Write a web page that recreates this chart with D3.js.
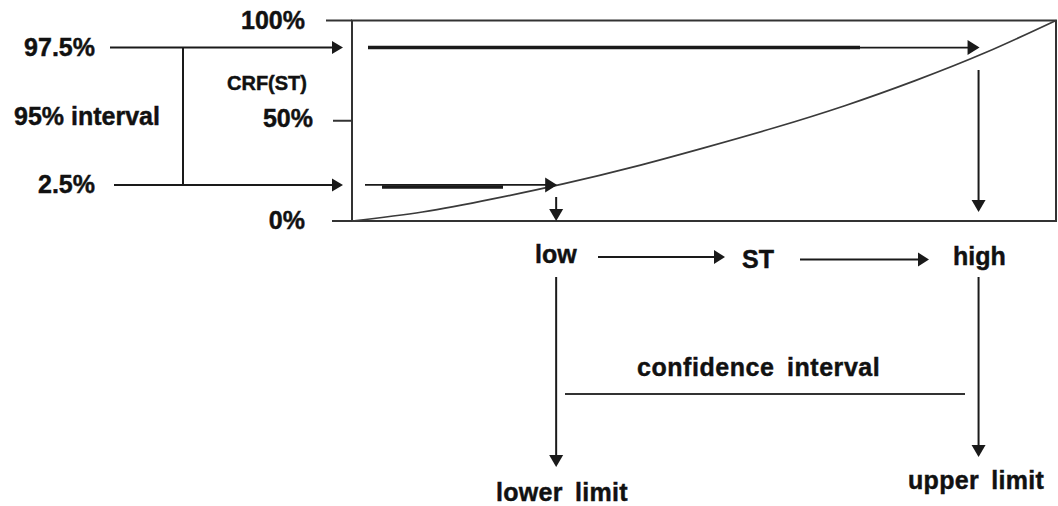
<!DOCTYPE html>
<html>
<head>
<meta charset="utf-8">
<script src="https://cdn.jsdelivr.net/npm/d3@7"></script>
<style>
  html, body { margin: 0; padding: 0; background: #fff; }
  svg { display: block; }
  text { font-family: "Liberation Sans", Arial, Helvetica, sans-serif; font-weight: bold; fill: #111; stroke: #111; stroke-width: 0.45px; }
</style>
</head>
<body>
<svg id="chart" width="1058" height="506"></svg>
<script>
// ---- data ----
const stFraction = [0, 0.1, 0.2, 0.3, 0.4, 0.5, 0.6, 0.7, 0.8, 0.9, 1.0];
const crfValues  = [0, 0.045, 0.11, 0.185, 0.27, 0.365, 0.465, 0.575, 0.70, 0.84, 1.0];
const yTickValues = [0, 0.5, 1];
const yTickLabels = ["0%", "50%", "100%"];
const quantileLabels = ["2.5%", "97.5%"];
const quantileLevels = [0.18, 0.865];   // where the schematic draws them on the CRF axis
const limitST = [0.29, 0.89];           // low / high positions on the ST axis
const flowLabels = ["low", "ST", "high"];
const limitLabels = ["lower limit", "upper limit"];
const intervalLabel = "95% interval";
const curveLabel = "CRF(ST)";
const ciLabel = "confidence interval";

// ---- layout ----
const svg = d3.select("#chart");
const box = { left: 352, right: 1056, top: 20.5, bottom: 221 };
const x = d3.scaleLinear().domain([0, 1]).range([box.left, box.right]);
const y = d3.scaleLinear().domain([0, 1]).range([box.bottom, box.top]);
const ink = "#1a1a1a";

function arrow(g, x1, y1, x2, y2, opts = {}) {
  const w = opts.width || 1.8, hl = opts.headLen || 12, hw = opts.headW || 13;
  const dx = x2 - x1, dy = y2 - y1, L = Math.hypot(dx, dy);
  const ux = dx / L, uy = dy / L;
  const bx = x2 - ux * hl, by = y2 - uy * hl;
  g.append("line").attr("x1", x1).attr("y1", y1).attr("x2", bx + ux * 1).attr("y2", by + uy * 1)
    .attr("stroke", ink).attr("stroke-width", w);
  g.append("path")
    .attr("d", `M${x2},${y2}L${bx - uy * hw / 2},${by + ux * hw / 2}L${bx + uy * hw / 2},${by - ux * hw / 2}Z`)
    .attr("fill", ink);
}

const g = svg.append("g");

// plot frame
g.append("rect").attr("x", box.left).attr("y", box.top)
  .attr("width", box.right - box.left).attr("height", box.bottom - box.top)
  .attr("fill", "none").attr("stroke", "#333").attr("stroke-width", 2);

// y ticks + labels
const tickLen = [20, 19, 26];
const labelEnd = [305, 313, 305];
const labelDy = [8, 6, 8];
yTickValues.forEach((v, i) => {
  g.append("line").attr("x1", box.left - tickLen[i]).attr("x2", box.left)
    .attr("y1", y(v)).attr("y2", y(v)).attr("stroke", "#333").attr("stroke-width", 2);
  g.append("text").attr("x", labelEnd[i]).attr("y", y(v) + labelDy[i])
    .attr("text-anchor", "end").attr("font-size", 25).text(yTickLabels[i]);
});

// CRF curve
const line = d3.line().x((d, i) => x(stFraction[i])).y(d => y(d)).curve(d3.curveNatural);
g.append("path").attr("d", line(crfValues)).attr("fill", "none")
  .attr("stroke", "#3a3a3a").attr("stroke-width", 1.7);

g.append("text").attr("x", 227).attr("y", 90).attr("font-size", 20).text(curveLabel);

// left quantile arrows
const leftStart = [114, 110];
const leftLabelX = [95, 95];
quantileLevels.forEach((q, i) => {
  arrow(g, leftStart[i], y(q), box.left - 9, y(q), { width: 2, headLen: 11, headW: 13 });
  g.append("text").attr("x", leftLabelX[i]).attr("y", y(q) + 8)
    .attr("text-anchor", "end").attr("font-size", 25).text(quantileLabels[i]);
});
// bracket joining the quantile arrows
g.append("line").attr("x1", 183).attr("x2", 183)
  .attr("y1", y(quantileLevels[1])).attr("y2", y(quantileLevels[0]))
  .attr("stroke", ink).attr("stroke-width", 2);
g.append("text").attr("x", 14).attr("y", 125).attr("font-size", 25).text(intervalLabel);

// arrows inside the plot: quantile level -> curve -> ST axis
const innerStart = [365, 368];
const thickSeg = [[382, 503, 2], [368, 860, 0]];
const downStart = [197, 70];
limitST.forEach((s, i) => {
  const q = quantileLevels[i];
  arrow(g, innerStart[i], y(q), x(s) + 1, y(q), { width: 1.8, headLen: 12, headW: 15 });
  g.append("line").attr("x1", thickSeg[i][0]).attr("x2", thickSeg[i][1])
    .attr("y1", y(q) + thickSeg[i][2]).attr("y2", y(q) + thickSeg[i][2])
    .attr("stroke", ink).attr("stroke-width", 3.5);
  arrow(g, x(s), downStart[i], x(s), i === 0 ? box.bottom : 212, { width: 2, headLen: 12, headW: 14 });
});

// flow row: low -> ST -> high
const flowX = [535, 742, 953];
const flowY = [263, 268, 265];
flowLabels.forEach((t, i) => {
  g.append("text").attr("x", flowX[i]).attr("y", flowY[i]).attr("font-size", 25).text(t);
});
arrow(g, 598, 257, 725, 257, { width: 1.8, headLen: 11, headW: 14 });
arrow(g, 800, 259.5, 929, 259.5, { width: 1.8, headLen: 11, headW: 14 });

// down to limits
const limitBottom = [467, 457];
limitST.forEach((s, i) => {
  arrow(g, x(s), 277, x(s), limitBottom[i], { width: 2, headLen: 12, headW: 14 });
});
const limitLabelX = [496, 908];
const limitLabelY = [501, 489];
limitLabels.forEach((t, i) => {
  g.append("text").attr("x", limitLabelX[i]).attr("y", limitLabelY[i]).attr("font-size", 25)
    .attr("word-spacing", 5).attr("letter-spacing", 0.3).text(t);
});

// confidence interval
g.append("line").attr("x1", 565).attr("x2", 965).attr("y1", 394).attr("y2", 394)
  .attr("stroke", "#333").attr("stroke-width", 1.8);
g.append("text").attr("x", 637).attr("y", 376).attr("font-size", 25)
  .attr("word-spacing", 5).attr("letter-spacing", 0.55).text(ciLabel);
</script>
</body>
</html>
